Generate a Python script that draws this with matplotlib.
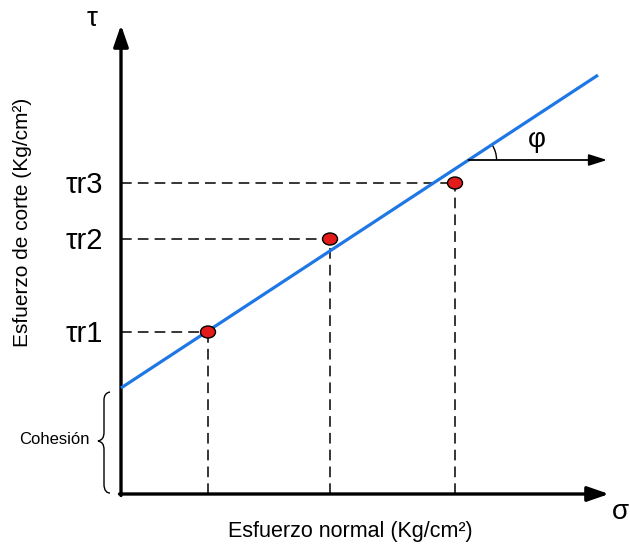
import matplotlib
matplotlib.use("Agg")
import matplotlib.pyplot as plt
from matplotlib.patches import Ellipse, Arc, PathPatch
from matplotlib.path import Path
import numpy as np

plt.rcParams['font.family'] = ['Liberation Sans', 'DejaVu Sans']

# Data (units: arbitrary stress units, origin at axes corner)
sigma = [87, 209, 334]           # normal stress of the three tests
tau = [162, 255, 311]            # shear stress at failure
point_labels = ['τr1', 'τr2', 'τr3']
cohesion = 106                   # intercept of the envelope
tan_phi = 0.656                  # slope of the failure envelope
sigma_max = 477                  # extent of the envelope

fig = plt.figure(figsize=(6.30, 5.49), dpi=100)
ax = fig.add_axes([0, 0, 1, 1])
ax.set_xlim(-121, 509)
ax.set_ylim(-55, 494)
ax.axis('off')

# axes arrows
ax.annotate('', xy=(0, 469), xytext=(0, -1.5),
            arrowprops=dict(arrowstyle='-|>,head_length=1.3,head_width=0.45', color='black', lw=2.4, shrinkA=0, shrinkB=0))
ax.annotate('', xy=(488, 0), xytext=(-1.5, 0),
            arrowprops=dict(arrowstyle='-|>,head_length=1.3,head_width=0.45', color='black', lw=2.4, shrinkA=0, shrinkB=0))

# dashed guide lines
for s, t in zip(sigma, tau):
    ax.plot([0, s], [t, t], color='black', lw=1.1, dashes=(7, 4))
    ax.plot([s, s], [0, t], color='black', lw=1.1, dashes=(7, 4))

# failure envelope
xs = np.array([0, sigma_max])
ax.plot(xs, cohesion + tan_phi * xs, color='#1f77e6', lw=2.3, solid_capstyle='butt', zorder=3)

# points
for s, t in zip(sigma, tau):
    ax.add_patch(Ellipse((s, t), 15, 12, facecolor='#e31b1b', edgecolor='black', lw=1.0, zorder=4))

# labels for points
for t, lab in zip(tau, point_labels):
    ax.text(-18, t - 2, lab, fontsize=21, ha='right', va='center')

# angle phi
x0 = (494 - 160 - cohesion) / tan_phi
y0 = 494 - 160
ax.annotate('', xy=(486, y0), xytext=(x0, y0),
            arrowprops=dict(arrowstyle='-|>,head_length=1.1,head_width=0.35', color='black', lw=1.3, shrinkA=0, shrinkB=0))
ang = np.degrees(np.arctan(tan_phi))
ax.add_patch(Arc((x0, y0), 56, 56, theta1=0, theta2=ang, color='black', lw=1.0))
ax.text(416, 354, 'φ', fontsize=20, ha='center', va='center')

# axis symbols
ax.text(-29, 475, 'τ', fontsize=20, ha='center', va='center')
ax.text(499, -18, 'σ', fontsize=20, ha='center', va='center')

# axis titles
ax.text(229, -38, 'Esfuerzo normal (Kg/cm²)', fontsize=15.5, ha='center', va='center')
ax.text(-99, 272, 'Esfuerzo de corte (Kg/cm²)', fontsize=15, ha='center', va='center', rotation=90)

# cohesion brace
def P(px, py):
    return (px - 121, 494 - py)
verts = [P(110, 392), P(104, 393), P(104, 400),
         P(104, 432),
         P(104, 438), P(102, 440), P(98, 441),
         P(102, 442), P(104, 444), P(104, 450),
         P(104, 484),
         P(104, 491), P(107, 493), P(110, 493)]
codes = [Path.MOVETO, Path.CURVE3, Path.CURVE3,
         Path.LINETO,
         Path.CURVE4, Path.CURVE4, Path.CURVE4,
         Path.CURVE4, Path.CURVE4, Path.CURVE4,
         Path.LINETO,
         Path.CURVE4, Path.CURVE4, Path.CURVE4]
ax.add_patch(PathPatch(Path(verts, codes), facecolor='none', edgecolor='black', lw=1.0))
ax.text(54 - 121, 494 - 440, 'Cohesión', fontsize=12, ha='center', va='center')

fig.savefig('out.png', dpi=100)
